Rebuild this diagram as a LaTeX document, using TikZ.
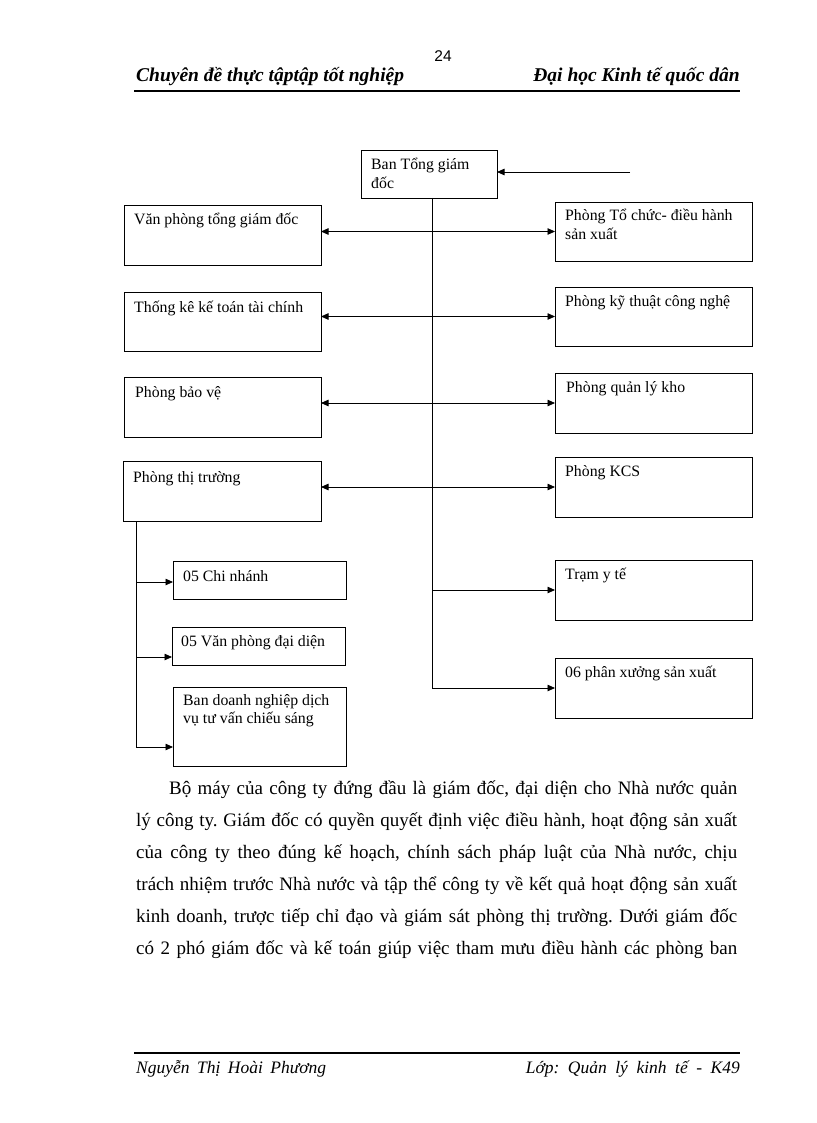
\documentclass[tikz,border=0pt]{standalone}
\usepackage{fontspec}
\setmainfont{Liberation Serif}
\newfontfamily\arialf{Liberation Sans}
\usetikzlibrary{arrows.meta}
\frenchspacing
\begin{document}
\begin{tikzpicture}[x=1pt,y=-1pt,
  bx/.style={draw, line width=0.8pt, inner sep=0pt, outer sep=0pt, anchor=north west},
  bt/.style={anchor=base west, inner sep=0pt, font=\fontsize{15.8}{18.5}\selectfont},
  con/.style={line width=0.8pt},
  arr/.style={con, -{Triangle[length=7.5pt,width=6.5pt]}},
  dbl/.style={con, {Triangle[length=7.5pt,width=6.5pt]}-{Triangle[length=7.5pt,width=6.5pt]}},
  hd/.style={inner sep=0pt, font=\fontsize{19.5}{22}\selectfont\bfseries\itshape},
  ft/.style={inner sep=0pt, font=\fontsize{17.5}{20}\selectfont\itshape},
  para/.style={anchor=base west, inner sep=0pt, font=\fontsize{19}{22}\selectfont},
  rule/.style={line width=2pt}]
\fill[white] (0,0) rectangle (816,1123);
\useasboundingbox (0,0) rectangle (816,1123);

% header
\node[inner sep=0pt, font=\arialf\fontsize{15.5}{18}\selectfont] (pg) at (443,56) {24};
\node[hd, anchor=base west] (hl) at (136,82) {Chuyên đề thực tậptập tốt nghiệp};
\node[hd, anchor=base east] (hr) at (740,82) {Đại học Kinh tế quốc dân};
\coordinate (h1) at (134,91.5);
\coordinate (h2) at (740,91.5);
\draw[rule] (h1) -- (h2);

% boxes
\node[bx, minimum width=136pt, minimum height=48pt] (top) at (361,150) {};
\node[bx, minimum width=197pt, minimum height=60pt] (l1) at (124,205) {};
\node[bx, minimum width=197pt, minimum height=59pt] (l2) at (124,292) {};
\node[bx, minimum width=197pt, minimum height=60pt] (l3) at (124,377) {};
\node[bx, minimum width=198pt, minimum height=60pt] (l4) at (123,461) {};
\node[bx, minimum width=197pt, minimum height=59pt] (r1) at (555,202) {};
\node[bx, minimum width=197pt, minimum height=59pt] (r2) at (555,287) {};
\node[bx, minimum width=197pt, minimum height=60pt] (r3) at (555,373) {};
\node[bx, minimum width=197pt, minimum height=60pt] (r4) at (555,457) {};
\node[bx, minimum width=197pt, minimum height=60pt] (r5) at (555,560) {};
\node[bx, minimum width=197pt, minimum height=60pt] (r6) at (555,658) {};
\node[bx, minimum width=173pt, minimum height=38pt] (s1) at (173,561) {};
\node[bx, minimum width=173pt, minimum height=38pt] (s2) at (172,627) {};
\node[bx, minimum width=173pt, minimum height=79pt] (s3) at (173,687) {};

% box texts
\node[bt] (ttop) at ([shift={(10,20)}]top.north west) {\begin{tabular}[t]{@{}l@{}}Ban Tổng giám\\đốc\end{tabular}};
\node[bt] (tl1) at ([shift={(10,20)}]l1.north west) {Văn phòng tổng giám đốc};
\node[bt] (tl2) at ([shift={(10,20)}]l2.north west) {Thống kê kế toán tài chính};
\node[bt] (tl3) at ([shift={(11,20)}]l3.north west) {Phòng bảo vệ};
\node[bt] (tl4) at ([shift={(10,21)}]l4.north west) {Phòng thị trường};
\node[bt] (tr1) at ([shift={(10,19)}]r1.north west) {\begin{tabular}[t]{@{}l@{}}Phòng Tổ chức- điều hành\\sản xuất\end{tabular}};
\node[bt] (tr2) at ([shift={(10,19)}]r2.north west) {Phòng kỹ thuật công nghệ};
\node[bt] (tr3) at ([shift={(11,19)}]r3.north west) {Phòng quản lý kho};
\node[bt] (tr4) at ([shift={(10,19)}]r4.north west) {Phòng KCS};
\node[bt] (tr5) at ([shift={(10,19)}]r5.north west) {Trạm y tế};
\node[bt] (tr6) at ([shift={(10,19)}]r6.north west) {06 phân xưởng sản xuất};
\node[bt] (ts1) at ([shift={(10,20)}]s1.north west) {05 Chi nhánh};
\node[bt] (ts2) at ([shift={(9,19)}]s2.north west) {05 Văn phòng đại diện};
\node[bt] (ts3) at ([shift={(10,18)}]s3.north west) {\begin{tabular}[t]{@{}l@{}}Ban doanh nghiệp dịch\\vụ tư vấn chiếu sáng\end{tabular}};

% connectors
\coordinate (src) at (630,172);
\draw[arr] (src) -- (src -| top.east);
\coordinate (sp) at (432,198);
\draw[arr] (sp) |- (r6.west);
\draw[arr] (r5.west -| sp) -- (r5.west);
\draw[dbl] (l1.east |- r1.west) -- (r1.west);
\draw[dbl] (l2.east |- r2.west) -- (r2.west);
\draw[dbl] (l3.east |- r3.west) -- (r3.west);
\draw[dbl] (l4.east |- r4.west) -- (r4.west);

\coordinate (lt) at (136,521);
\draw[arr] (lt) |- ([yshift=19pt]s3.south west);
\draw[arr] ([yshift=-2pt]s1.west -| lt) -- ([yshift=-2pt]s1.west);
\draw[arr] ([yshift=-11pt]s2.west -| lt) -- ([yshift=-11pt]s2.west);

% paragraph
\node[para] (p1) at (169,794) {\makebox[568pt][s]{Bộ máy của công ty đứng đầu là giám đốc, đại diện cho Nhà nước quản}};
\node[para] (p2) at (136,826) {\makebox[601pt][s]{lý công ty. Giám đốc có quyền quyết định việc điều hành, hoạt động sản xuất}};
\node[para] (p3) at (136,858) {\makebox[601pt][s]{của công ty theo đúng kế hoạch, chính sách pháp luật của Nhà nước, chịu}};
\node[para] (p4) at (136,890) {\makebox[601pt][s]{trách nhiệm trước Nhà nước và tập thể công ty về kết quả hoạt động sản xuất}};
\node[para] (p5) at (136,922) {\makebox[601pt][s]{kinh doanh, trược tiếp chỉ đạo và giám sát phòng thị trường. Dưới giám đốc}};
\node[para] (p6) at (136,954) {\makebox[601pt][s]{có 2 phó giám đốc và kế toán giúp việc tham mưu điều hành các phòng ban}};

% footer
\coordinate (f1) at (134,1053);
\coordinate (f2) at (740,1053);
\draw[rule] (f1) -- (f2);
\node[ft, anchor=base west] (fl) at (136,1073) {\makebox[190pt][s]{Nguyễn Thị Hoài Phương}};
\node[ft, anchor=base east] (fr) at (740,1073) {\makebox[214pt][s]{Lớp: Quản lý kinh tế - K49}};
\end{tikzpicture}
\end{document}
